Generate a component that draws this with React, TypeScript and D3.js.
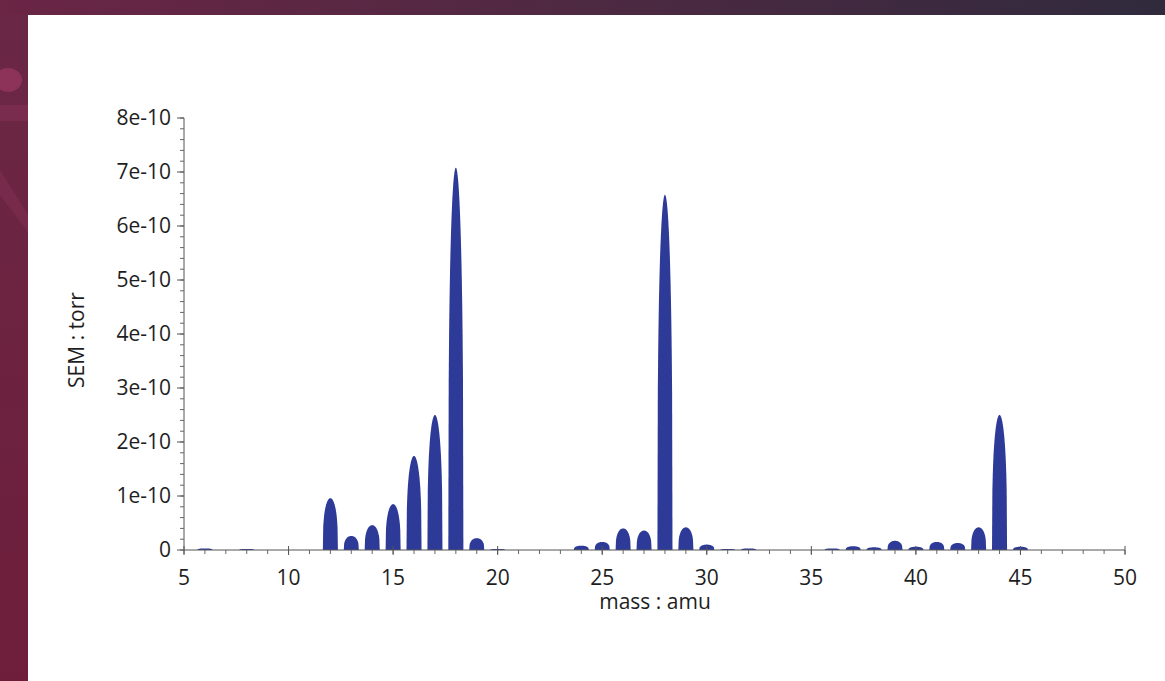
import React, { useMemo } from "react";
import * as d3 from "d3";

const W = 1165;
const H = 681;

// peak positions (amu) and heights (torr)
const masses = [6, 8, 12, 13, 14, 15, 16, 17, 18, 19, 20, 24, 25, 26, 27, 28, 29, 30, 31, 32, 36, 37, 38, 39, 40, 41, 42, 43, 44, 45];
const intensities = [
  0.03e-10, 0.02e-10, 0.96e-10, 0.26e-10, 0.46e-10, 0.85e-10, 1.74e-10, 2.5e-10, 7.08e-10, 0.22e-10,
  0.02e-10, 0.08e-10, 0.15e-10, 0.4e-10, 0.36e-10, 6.58e-10, 0.42e-10, 0.1e-10, 0.02e-10, 0.03e-10,
  0.03e-10, 0.07e-10, 0.05e-10, 0.17e-10, 0.06e-10, 0.15e-10, 0.13e-10, 0.42e-10, 2.5e-10, 0.06e-10,
];

const xTicks = [5, 10, 15, 20, 25, 30, 35, 40, 45, 50];
const yTicks = [0, 1e-10, 2e-10, 3e-10, 4e-10, 5e-10, 6e-10, 7e-10, 8e-10];
const yTickLabels = ["0", "1e-10", "2e-10", "3e-10", "4e-10", "5e-10", "6e-10", "7e-10", "8e-10"];

const FONT = "'Open Sans', 'Noto Sans', sans-serif";
const PEAK = "#2e3a97";
const HALF_WIDTH = 0.36; // amu
const FS = 21;

// shape of one peak, u from -1..1
const profileU = d3.range(-1, 1.0001, 0.05);

const App = () => {
  const x = d3.scaleLinear().domain([5, 50]).range([184, 1125]);
  const y = d3.scaleLinear().domain([0, 8e-10]).range([550, 118]);

  const peaks = useMemo(() => {
    const area = d3
      .area<number[]>()
      .x((d) => d[0])
      .y0(y(0))
      .y1((d) => d[1]);
    return masses.map((m, i) => {
      const h = intensities[i];
      const pts = profileU.map((u) => [
        x(m + u * HALF_WIDTH),
        y(h * Math.pow(Math.max(0, 1 - u * u), 0.35)),
      ]);
      return area(pts);
    });
  }, []);

  const minorX = d3.range(5, 50.001, 1);
  const minorY = d3.range(0, 8.001e-10, 0.2e-10);

  return (
    <svg width={W} height={H} style={{ position: "absolute", left: 0, top: 0 }}>
      <defs>
        <linearGradient id="band" x1="0" x2="1" y1="0" y2="0">
          <stop offset="0" stopColor="#6b2545" />
          <stop offset="0.5" stopColor="#4e2942" />
          <stop offset="1" stopColor="#302a3d" />
        </linearGradient>
        <linearGradient id="side" x1="0" x2="0" y1="0" y2="1">
          <stop offset="0" stopColor="#6a2846" />
          <stop offset="1" stopColor="#6e1e3a" />
        </linearGradient>
      </defs>
      <rect width={W} height={H} fill="url(#side)" />
      <rect width={W} height={15} fill="url(#band)" />
      {/* faint decorations on the left edge */}
      <ellipse cx={8} cy={80} rx={14} ry={12} fill="#a33b68" opacity={0.6} />
      <rect x={0} y={105} width={28} height={16} fill="#8a3258" opacity={0.5} />
      <path d="M0,170 L28,215 L28,232 L0,195 Z" fill="#8a3258" opacity={0.4} />
      <rect x={28} y={15} width={W - 28} height={H - 15} fill="#fff" />

      {/* peaks */}
      {peaks.map((d, i) => (
        <path key={i} d={d ?? ""} fill={PEAK} />
      ))}

      {/* y axis */}
      <line x1={x(5)} x2={x(5)} y1={y(0)} y2={y(8e-10)} stroke="#555" strokeWidth={1} />
      {minorY.map((v, i) => (
        <line key={i} x1={x(5) - 4} x2={x(5)} y1={y(v)} y2={y(v)} stroke="#666" strokeWidth={1} />
      ))}
      {yTicks.map((v, i) => (
        <g key={i}>
          <line x1={x(5) - 7} x2={x(5)} y1={y(v)} y2={y(v)} stroke="#555" strokeWidth={1} />
          <text
            x={x(5) - 13}
            y={y(v)}
            dy="0.35em"
            textAnchor="end"
            fontFamily={FONT}
            fontSize={FS}
            fill="#1e1e1e"
          >
            {yTickLabels[i]}
          </text>
        </g>
      ))}

      {/* x axis */}
      <line x1={x(5)} x2={x(50)} y1={y(0)} y2={y(0)} stroke="#555" strokeWidth={1} />
      {minorX.map((v, i) => (
        <line key={i} x1={x(v)} x2={x(v)} y1={y(0)} y2={y(0) + 4} stroke="#666" strokeWidth={1} />
      ))}
      {xTicks.map((v, i) => (
        <g key={i}>
          <line x1={x(v)} x2={x(v)} y1={y(0) - 4} y2={y(0) + 5} stroke="#555" strokeWidth={1} />
          <text
            x={x(v)}
            y={585}
            textAnchor="middle"
            fontFamily={FONT}
            fontSize={FS}
            fill="#1e1e1e"
          >
            {v}
          </text>
        </g>
      ))}

      <text x={655} y={609} textAnchor="middle" fontFamily={FONT} fontSize={FS} fill="#1e1e1e">
        mass : amu
      </text>
      <text
        transform={`translate(84, 340) rotate(-90)`}
        textAnchor="middle"
        fontFamily={FONT}
        fontSize={FS}
        fill="#1e1e1e"
      >
        SEM : torr
      </text>
    </svg>
  );
};

export default App;
